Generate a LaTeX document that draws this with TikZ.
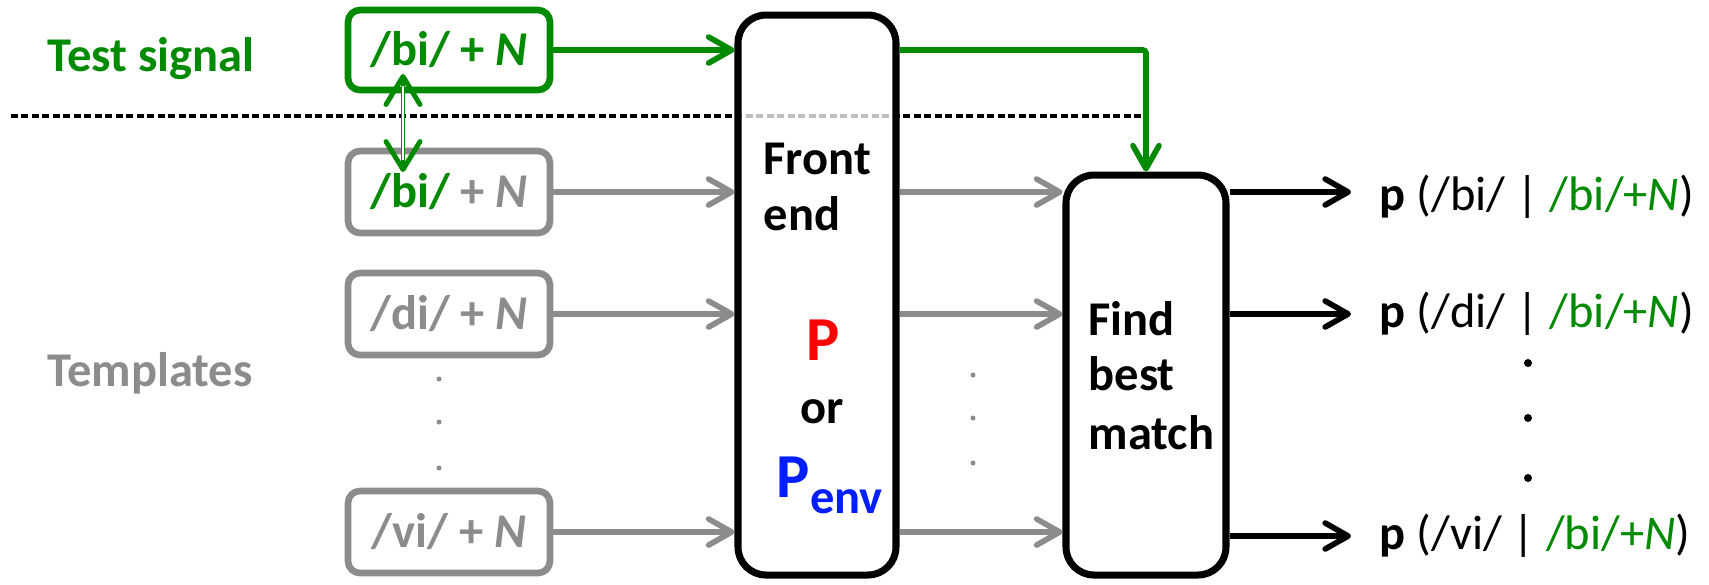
\documentclass[tikz,border=0pt]{standalone}
\usepackage{fontspec}
\setmainfont{Carlito}
\usetikzlibrary{arrows.meta}

\definecolor{sigGreen}{RGB}{0,138,0}
\definecolor{tplGray}{RGB}{140,140,140}
\definecolor{envBlue}{RGB}{0,30,255}

\begin{document}
\begin{tikzpicture}[x=0.1mm,y=-0.1mm,
  every node/.style={font=\fontsize{13.8}{16}\selectfont\bfseries, inner sep=0pt},
  tplbox/.style={draw=tplGray, line width=1.9pt, rounded corners=1.2mm, fill=white,
    minimum width=20.2mm, minimum height=8.2mm, text=tplGray},
  bigbox/.style={draw=black, line width=2pt, rounded corners=2.8mm, fill=white, fill opacity=0.75},
  tip/.style={-{Straight Barb[length=2.3mm,width=2.6mm,line cap=round,line join=round]}},
  feed/.style={tip, draw=tplGray, line width=1.6pt},
  sig/.style={tip, draw=sigGreen, line width=1.6pt},
  outarrow/.style={tip, draw=black, line width=1.6pt},
  outlabel/.style={anchor=base west, font=\fontsize{13.8}{16}\selectfont},
  gdot/.style={fill=tplGray},
  bdot/.style={fill=black}
]
\useasboundingbox (0,0) rectangle (1709,584);

% separator between test signal and templates
\draw[black, line width=1.1pt, dash pattern=on 0.7mm off 0.35mm] (11,116) -- (1144,116);

% processing blocks
\node[bigbox, minimum width=15.8mm, minimum height=56mm] (front) at (817,295) {};
\node[bigbox, minimum width=16mm, minimum height=40mm] (find) at (1146,375) {};

% block labels
\node[anchor=base west] (frontA) at (763,174) {Front};
\node[anchor=base west] (frontB) at (763,230) {end};
\node[anchor=base, text=red, font=\fontsize{17.8}{20}\selectfont\bfseries] (pP) at (823,360) {P};
\node[anchor=base] (por) at (822,423) {or};
\node[anchor=base west, text=envBlue] (penv) at (776,497)
  {{\fontsize{17.8}{20}\selectfont P}\raisebox{-1.6mm}{env}};
\node[anchor=base west] (findA) at (1088,335) {Find};
\node[anchor=base west] (findB) at (1088,390) {best};
\node[anchor=base west] (findC) at (1088,449) {match};

% side captions
\node[anchor=base, text=sigGreen] (captest) at (151,71) {Test signal};
\node[anchor=base, text=tplGray] (captpl) at (150,386) {Templates};

% test signal and templates
\node[tplbox, draw=sigGreen, minimum height=8mm, text=sigGreen] (test) at (449,50)
  {/bi/ + \textit{N}};
\node[tplbox] (tbi) at (449,192) {\textcolor{sigGreen}{/bi/} + \textit{N}};
\node[tplbox] (tdi) at (449,314) {/di/ + \textit{N}};
\node[tplbox] (tvi) at (449,532) {/vi/ + \textit{N}};

% elided templates
\fill[gdot] (439,379) circle (2.5);
\fill[gdot] (439,422) circle (2.5);
\fill[gdot] (439,468) circle (2.5);
\fill[gdot] (973,375) circle (2.5);
\fill[gdot] (973,418) circle (2.5);
\fill[gdot] (973,463) circle (2.5);

% feeds into the front end and on to the matcher
\draw[feed] (tbi.east) -- (tbi.east -| front.west);
\draw[feed] (tdi.east) -- (tdi.east -| front.west);
\draw[feed] (tvi.east) -- (tvi.east -| front.west);
\draw[feed] (front.east |- tbi) -- (find.west |- tbi);
\draw[feed] (front.east |- tdi) -- (find.west |- tdi);
\draw[feed] (front.east |- tvi) -- (find.west |- tvi);

% test signal path
\draw[sig] (test.east) -- (test.east -| front.west);
\draw[sig, rounded corners=0.3mm] (front.east |- test) -- (test -| find.north) -- (find.north);

% correspondence between test signal and its template
\coordinate (dtop) at (403,74);
\coordinate (dbot) at (403,172);
\draw[sigGreen, line width=1.4pt,
  {Straight Barb[length=2.8mm,width=3.4mm,line cap=round,line join=round]}-{Straight Barb[length=2.8mm,width=3.4mm,line cap=round,line join=round]}]
  (dtop) -- (dbot);
\draw[white, line width=0.5pt, shorten <=1.2mm, shorten >=1.2mm] (dtop) -- (dbot);

% posterior outputs
\node[outlabel] (out1) at (1379,210) {\textbf{p} (/bi/ | \textcolor{sigGreen}{/bi/+\textit{N}})};
\node[outlabel] (out2) at (1379,327) {\textbf{p} (/di/ | \textcolor{sigGreen}{/bi/+\textit{N}})};
\node[outlabel] (out3) at (1379,549) {\textbf{p} (/vi/ | \textcolor{sigGreen}{/bi/+\textit{N}})};
\coordinate (o1) at (1351,192);
\coordinate (o2) at (1351,314);
\coordinate (o3) at (1351,536);
\draw[outarrow] (find.east |- o1) -- (o1);
\draw[outarrow] (find.east |- o2) -- (o2);
\draw[outarrow] (find.east |- o3) -- (o3);
\fill[bdot] (1528,363) circle (4);
\fill[bdot] (1528,418) circle (4);
\fill[bdot] (1528,478) circle (4);
\end{tikzpicture}
\end{document}
